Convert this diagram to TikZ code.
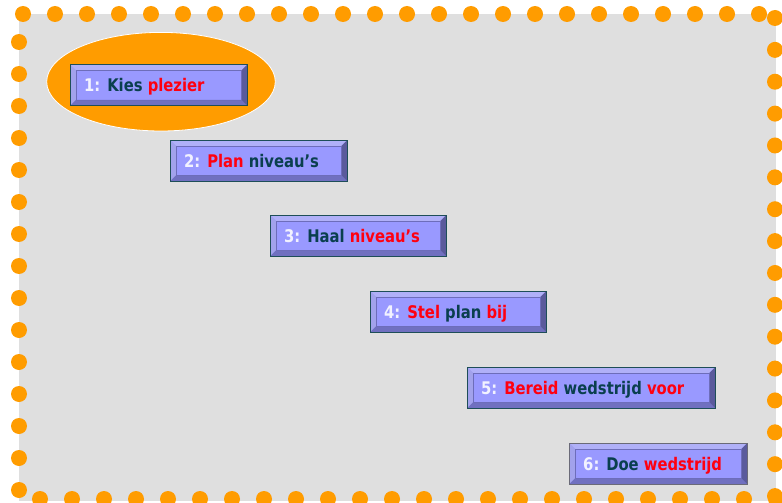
\documentclass[tikz,border=0pt]{standalone}
\usepackage{fontspec}
\setmainfont{DejaVu Sans}[FakeStretch=0.85]
\usetikzlibrary{calc}
\definecolor{bggray}{HTML}{DFDFDF}
\definecolor{orng}{HTML}{FF9C00}
\definecolor{face}{HTML}{9999FF}
\definecolor{bevT}{HTML}{B0B0F8}
\definecolor{bevL}{HTML}{A2A2EC}
\definecolor{bevB}{HTML}{7070C0}
\definecolor{bevR}{HTML}{5A5A9C}
\definecolor{edgeteal}{HTML}{1E4E58}
\definecolor{edgegray}{HTML}{6A6A78}
\definecolor{darkword}{HTML}{0A3F4E}
\definecolor{redword}{HTML}{FF0010}
\definecolor{numcol}{HTML}{F2F2FF}
\tikzset{
  dotmark/.style={fill=orng},
  bx/.style={fill=face, minimum height=41pt, inner sep=0pt, anchor=north west},
  lbl/.style={inner sep=0pt, anchor=base west, font=\fontsize{17.4}{20}\selectfont\bfseries},
}
\newcommand\bevbox[5]{%
  \node[bx, minimum width=#3] (#1) at (#2) {};
  \fill[bevT] (#1.north west) -- (#1.north east) -- ($(#1.north east)+(-6,6)$) -- ($(#1.north west)+(6,6)$) -- cycle;
  \fill[bevL] (#1.north west) -- ($(#1.north west)+(6,6)$) -- ($(#1.south west)+(6,-6)$) -- (#1.south west) -- cycle;
  \fill[bevB] (#1.south west) -- ($(#1.south west)+(6,-6)$) -- ($(#1.south east)+(-6,-6)$) -- (#1.south east) -- cycle;
  \fill[bevR] (#1.north east) -- ($(#1.north east)+(-6,6)$) -- ($(#1.south east)+(-6,-6)$) -- (#1.south east) -- cycle;
  \draw[bevR!70!face, line width=0.5pt] ($(#1.north west)+(6,6)$) rectangle ($(#1.south east)+(-6,-6)$);
  \draw[#5, line width=1pt] (#1.north west) rectangle (#1.south east);
  \node[lbl] (#1t) at ([xshift=14pt, yshift=-6.4pt]#1.west) {#4};
}
\newcommand\nm[1]{\textcolor{numcol}{#1}}
\newcommand\dw[1]{\textcolor{darkword}{#1}}
\newcommand\rw[1]{\textcolor{redword}{#1}}
\begin{document}
\begin{tikzpicture}[x=1pt,y=-1pt]
\fill[white] (0,0) rectangle (782,503);
\useasboundingbox (0,0) rectangle (782,503);
\clip (0,0) rectangle (782,503);
\fill[bggray] (19,14) rectangle (775.5,501);
% dotted border
\foreach \k in {0,...,23} \fill[dotmark] (23+32*\k,14) circle (8pt);
\foreach \k in {0,...,15} \fill[dotmark] (775,18+31.87*\k) circle (8pt);
\foreach \k in {0,...,23} \fill[dotmark] (40+32*\k,499) circle (8pt);
\foreach \k in {0,...,14} \fill[dotmark] (19,42+32*\k) circle (8pt);
% highlight ellipse
\draw[fill=orng, draw=white, line width=0.8pt] (161,81.7) ellipse [x radius=114.3pt, y radius=49.3pt];
% boxes
\bevbox{b1}{70,64.5}{177pt}{\nm{1:} \dw{Kies} \rw{plezier}}{edgeteal}
\bevbox{b2}{170,140}{177pt}{\nm{2:} \rw{Plan} \dw{niveau’s}}{edgeteal}
\bevbox{b3}{270,215}{176pt}{\nm{3:} \dw{Haal} \rw{niveau’s}}{edgeteal}
\bevbox{b4}{370,291}{176pt}{\nm{4:} \rw{Stel} \dw{plan} \rw{bij}}{edgeteal}
\bevbox{b5}{467,367}{248pt}{\nm{5:} \rw{Bereid} \dw{wedstrijd} \rw{voor}}{edgeteal}
\bevbox{b6}{569,443}{178pt}{\nm{6:} \dw{Doe} \rw{wedstrijd}}{edgegray}
\end{tikzpicture}
\end{document}
